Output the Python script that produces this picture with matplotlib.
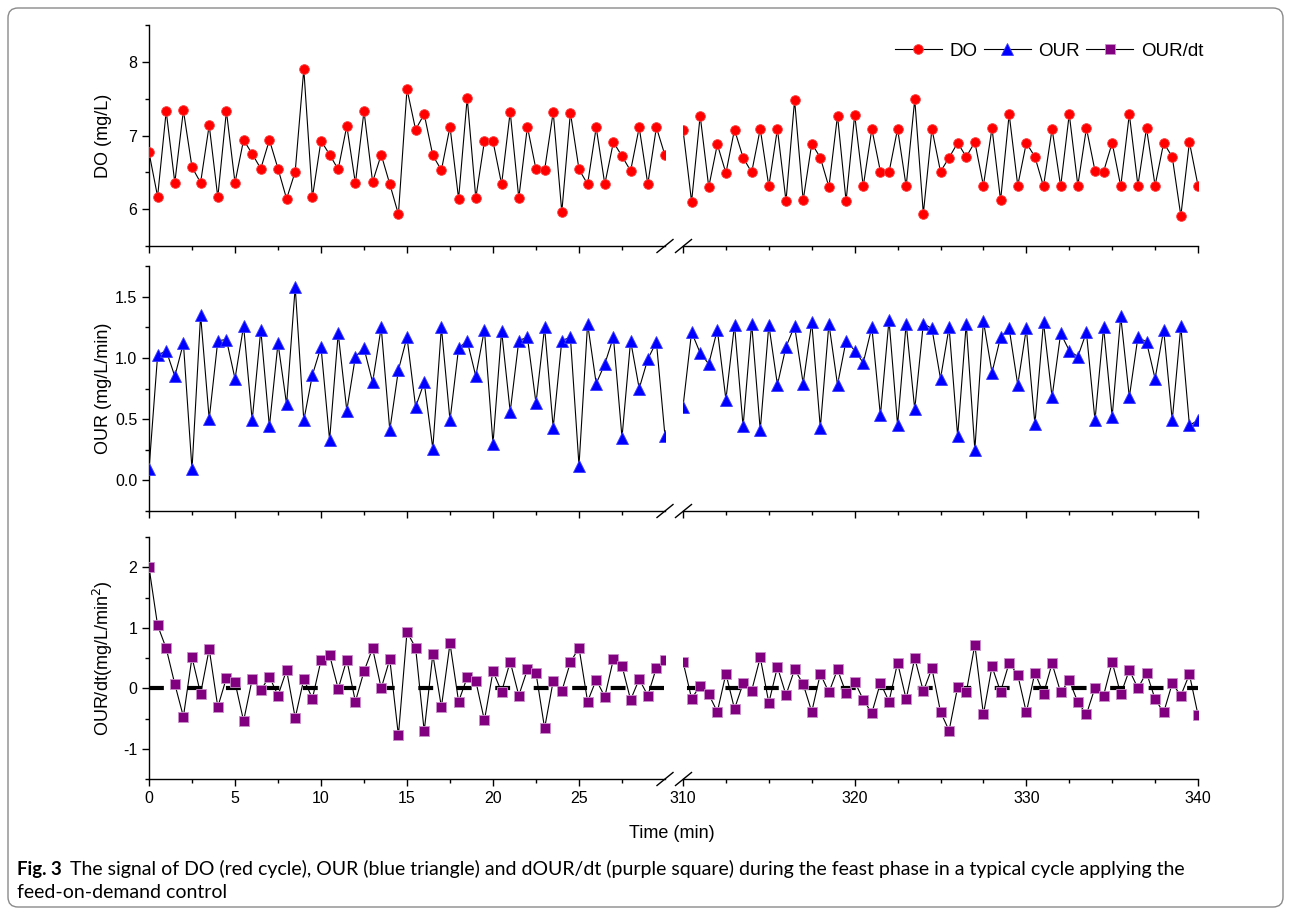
import numpy as np
import matplotlib
matplotlib.use("Agg")
import matplotlib.pyplot as plt
from matplotlib.lines import Line2D
from matplotlib.patches import FancyBboxPatch
from matplotlib.transforms import IdentityTransform
from matplotlib.ticker import MultipleLocator, FixedLocator, FormatStrFormatter

plt.rcParams['font.family'] = ['Liberation Sans', 'DejaVu Sans']
plt.rcParams['lines.scale_dashes'] = False

# ---------------- data ----------------
step_min = 0.5
n_pts = 61
t_left = np.arange(n_pts) * step_min            # 0 ... 30 min
t_right = 310 + np.arange(n_pts) * step_min     # 310 ... 340 min

do_left = [6.77, 6.17, 7.33, 6.36, 7.34, 6.57, 6.36, 7.14, 6.16, 7.33,
           6.36, 6.94, 6.75, 6.55, 6.94, 6.55, 6.14, 6.51, 7.90, 6.16,
           6.93, 6.74, 6.54, 7.13, 6.35, 7.33, 6.37, 6.74, 6.34, 5.93,
           7.63, 7.08, 7.29, 6.73, 6.53, 7.12, 6.14, 7.51, 6.15, 6.92,
           6.92, 6.34, 7.32, 6.15, 7.12, 6.54, 6.53, 7.32, 5.96, 7.31,
           6.54, 6.34, 7.11, 6.34, 6.91, 6.72, 6.52, 7.11, 6.34, 7.11,
           6.73]
do_right = [7.08, 6.10, 7.27, 6.30, 6.88, 6.49, 7.08, 6.70, 6.50, 7.09,
            6.31, 7.09, 6.11, 7.48, 6.12, 6.89, 6.70, 6.30, 7.27, 6.11,
            7.28, 6.31, 7.09, 6.51, 6.50, 7.09, 6.31, 7.49, 5.94, 7.09,
            6.51, 6.70, 6.90, 6.71, 6.91, 6.32, 7.10, 6.12, 7.29, 6.32,
            6.90, 6.71, 6.31, 7.09, 6.31, 7.29, 6.32, 7.10, 6.52, 6.51,
            6.90, 6.31, 7.29, 6.32, 7.10, 6.32, 6.90, 6.71, 5.91, 6.91,
            6.32]

our_left = [0.09, 1.02, 1.06, 0.85, 1.12, 0.09, 1.35, 0.50, 1.14, 1.15,
            0.83, 1.26, 0.49, 1.23, 0.44, 1.12, 0.62, 1.58, 0.49, 0.86,
            1.09, 0.33, 1.20, 0.57, 1.01, 1.08, 0.80, 1.25, 0.41, 0.90,
            1.17, 0.60, 0.80, 0.26, 1.25, 0.49, 1.08, 1.14, 0.85, 1.23,
            0.30, 1.22, 0.56, 1.14, 1.17, 0.63, 1.25, 0.43, 1.14, 1.17,
            0.12, 1.28, 0.79, 0.95, 1.17, 0.35, 1.14, 0.75, 0.99, 1.13,
            0.36]
our_right = [0.60, 1.21, 1.04, 0.95, 1.23, 0.66, 1.27, 0.44, 1.28, 0.41,
             1.27, 0.78, 1.09, 1.26, 0.79, 1.29, 0.43, 1.28, 0.78, 1.14,
             1.06, 0.96, 1.25, 0.53, 1.31, 0.45, 1.28, 0.58, 1.28, 1.24,
             0.83, 1.25, 0.36, 1.28, 0.25, 1.30, 0.88, 1.17, 1.24, 0.78,
             1.24, 0.46, 1.29, 0.68, 1.20, 1.06, 1.01, 1.21, 0.49, 1.25,
             0.52, 1.34, 0.68, 1.17, 1.13, 0.83, 1.23, 0.49, 1.26, 0.45,
             0.49]

dour_left = [2.00, 1.04, 0.66, 0.07, -0.47, 0.51, -0.09, 0.65, -0.31, 0.17,
             0.10, -0.54, 0.15, -0.03, 0.19, -0.12, 0.30, -0.49, 0.15, -0.17,
             0.46, 0.55, -0.01, 0.47, -0.22, 0.28, 0.66, 0.00, 0.48, -0.78,
             0.93, 0.67, -0.71, 0.56, -0.31, 0.74, -0.22, 0.18, 0.12, -0.53,
             0.28, -0.06, 0.44, -0.12, 0.31, 0.25, -0.66, 0.12, -0.05, 0.43,
             0.67, -0.22, 0.14, -0.14, 0.48, 0.37, -0.19, 0.15, -0.12, 0.34,
             0.46]
dour_right = [0.44, -0.17, 0.04, -0.10, -0.39, 0.24, -0.34, 0.08, -0.04, 0.51,
              -0.24, 0.35, -0.11, 0.31, 0.07, -0.39, 0.24, -0.07, 0.31, -0.08,
              0.11, -0.19, -0.41, 0.09, -0.22, 0.42, -0.18, 0.50, -0.05, 0.33,
              -0.39, -0.70, 0.02, -0.07, 0.72, -0.43, 0.36, -0.06, 0.42, 0.22,
              -0.40, 0.26, -0.09, 0.41, -0.07, 0.13, -0.23, -0.43, 0.01, -0.12,
              0.43, -0.10, 0.30, 0.00, 0.26, -0.18, -0.40, 0.08, -0.12, 0.23,
              -0.44]

series_names = ["DO", "OUR", "OUR/dt"]
y_labels = ["DO (mg/L)", "OUR (mg/L/min)", "OUR/dt(mg/L/min$^{2}$)"]
x_label = "Time (min)"
left_xticks = [0, 5, 10, 15, 20, 25]
right_xticks = [310, 320, 330, 340]
caption_bold = "Fig. 3"
caption_line1 = ("The signal of DO (red cycle), OUR (blue triangle) and dOUR/dt (purple square) "
                 "during the feast phase in a typical cycle applying the")
caption_line2 = "feed-on-demand control"

# ---------------- layout ----------------
W, H = 1290, 915
fig = plt.figure(figsize=(W / 100, H / 100), dpi=100)
fig.patch.set_facecolor("white")

XL0, XL1 = 149, 665     # left segment pixels
XR0, XR1 = 683, 1198    # right segment pixels

rows = [
    dict(y0=25, y1=246, ylim=(5.5, 8.5), major=1, minor=0.5, fmt='%g',
         yl=do_left, yr=do_right, marker='o', color='#ff0000', ms=7.0, mec='#ff4040'),
    dict(y0=266, y1=511, ylim=(-0.25, 1.75), major=0.5, minor=0.25, fmt='%.1f',
         yl=our_left, yr=our_right, marker='^', color='#0000ff', ms=8.0, mec='#3a3aff'),
    dict(y0=537, y1=779, ylim=(-1.5, 2.5), major=1, minor=0.5, fmt='%g',
         yl=dour_left, yr=dour_right, marker='s', color='#800080', ms=6.6, mec='#c98fc9'),
]


def add_ax(x0, y0, x1, y1):
    return fig.add_axes([x0 / W, 1 - y1 / H, (x1 - x0) / W, (y1 - y0) / H])


tick_fs = 11.5
label_fs = 13

for i, r in enumerate(rows):
    axl = add_ax(XL0, r['y0'], XL1, r['y1'])
    axr = add_ax(XR0, r['y0'], XR1, r['y1'])
    for ax, t, y in ((axl, t_left, r['yl']), (axr, t_right, r['yr'])):
        ax.set_facecolor('none')
        ax.plot(t, y, color='black', lw=0.8, zorder=2)
        ax.plot(t, y, linestyle='none', marker=r['marker'], ms=r['ms'],
                mfc=r['color'], mec=r['mec'], mew=0.6, zorder=3)
        ax.set_ylim(*r['ylim'])
        for s in ('top', 'right'):
            ax.spines[s].set_visible(False)
        ax.spines['bottom'].set_linewidth(1.0)
        ax.spines['left'].set_linewidth(1.0)
        ax.tick_params(axis='both', which='major', direction='out', length=5, width=1.0,
                       labelsize=tick_fs, color='black')
        ax.tick_params(axis='both', which='minor', direction='out', length=3, width=1.0,
                       color='black')
        if i < 2:
            ax.tick_params(axis='x', which='both', labelbottom=False)
    axl.set_xlim(0, 30)
    axr.set_xlim(310, 340)
    axl.xaxis.set_major_locator(FixedLocator(left_xticks))
    axl.xaxis.set_minor_locator(FixedLocator([2.5, 7.5, 12.5, 17.5, 22.5, 27.5]))
    axr.xaxis.set_major_locator(FixedLocator(right_xticks))
    axr.xaxis.set_minor_locator(MultipleLocator(2.5))
    axl.yaxis.set_major_locator(MultipleLocator(r['major']))
    axl.yaxis.set_minor_locator(MultipleLocator(r['minor']))
    axl.yaxis.set_major_formatter(FormatStrFormatter(r['fmt']))
    axr.spines['left'].set_visible(False)
    axr.tick_params(axis='y', which='both', left=False, labelleft=False)

    if i == 2:
        # dashed zero reference line
        for ax, off in ((axl, 0.0), (axr, (38.5 - 4) * 0.72)):
            ax.axhline(0, color='black', lw=3.0, zorder=2.5,
                       linestyle=(off, (10.7, 17.0)), dash_capstyle='butt')
        axl.set_xticklabels([str(v) for v in left_xticks])
        axr.set_xticklabels([str(v) for v in right_xticks])

    # y label
    yc = (r['y0'] + r['y1']) / 2
    fig.text(103 / W, 1 - yc / H, y_labels[i], rotation=90, ha='center', va='center',
             fontsize=label_fs)

    # axis break marks
    yb = H - r['y1']
    for cx in (665, 683.5):
        fig.add_artist(Line2D([cx - 8, cx + 8], [yb - 6.5, yb + 6.5], color='black', lw=1.0,
                              transform=IdentityTransform()))

# x label
fig.text(672 / W, 1 - 834 / H, x_label, ha='center', va='center', fontsize=label_fs)

# legend
handles = []
for r, name in zip(rows, series_names):
    handles.append(Line2D([], [], color='black', lw=0.8, marker=r['marker'], ms=r['ms'],
                          mfc=r['color'], mec=r['mec'], mew=0.6))
fig.legend(handles, series_names, loc='center right', bbox_to_anchor=(1203 / W, 1 - 51 / H),
           ncol=3, frameon=False, fontsize=13.5, handlelength=2.5, handletextpad=0.4,
           columnspacing=0.35, borderpad=0, borderaxespad=0)

# caption
cap_font = ['Lato', 'DejaVu Sans']
cap_fs = 12.5
tb = fig.text(17 / W, 1 - 869 / H, caption_bold, fontsize=cap_fs, fontweight='bold',
              family=cap_font, ha='left', va='center')
t1 = fig.text(70 / W, 1 - 869 / H, caption_line1, fontsize=cap_fs, family=cap_font,
              ha='left', va='center')
t2 = fig.text(17 / W, 1 - 893 / H, caption_line2, fontsize=cap_fs, family=cap_font,
              ha='left', va='center')
# fit caption widths to the reference
fig.canvas.draw()
ren = fig.canvas.get_renderer()
w1 = t1.get_window_extent(ren).width
scale = 1117.0 / w1
for t in (t1, t2):
    t.set_fontsize(cap_fs * scale)
wb = tb.get_window_extent(ren).width
tb.set_fontsize(cap_fs * 45.0 / wb)

# outer rounded frame
frame = FancyBboxPatch((8, 8), 1275, 899, boxstyle="round,pad=0,rounding_size=10",
                       transform=IdentityTransform(), fill=False, edgecolor='#8a8a8a', lw=1.0)
fig.add_artist(frame)

fig.savefig("out.png", dpi=100)
